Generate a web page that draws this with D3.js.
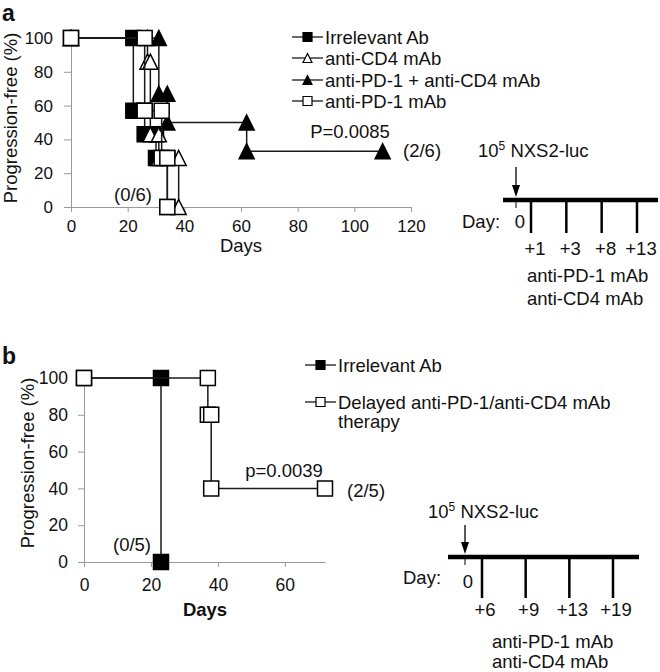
<!DOCTYPE html>
<html>
<head>
<meta charset="utf-8">
<script src="https://cdn.jsdelivr.net/npm/d3@7"></script>
<style>
  html, body { margin: 0; padding: 0; background: #fff; }
  svg { display: block; }
  text { font-family: "Liberation Sans", Arial, sans-serif; fill: #111; }
</style>
</head>
<body>
<svg id="chart" width="660" height="672"></svg>
<script>
// ---------- Panel a data ----------
const aSeriesNames = ["Irrelevant Ab", "anti-CD4 mAb", "anti-PD-1 + anti-CD4 mAb", "anti-PD-1 mAb"];
const aIrrDays   = [0, 22, 22, 26, 26, 30, 30, 34, 34];
const aIrrVals   = [100, 100, 57, 57, 43, 43, 29, 29, 0];
const aCd4Days   = [0, 27, 27, 28, 28, 31, 31, 38, 38];
const aCd4Vals   = [100, 100, 86, 86, 43, 43, 29, 29, 0];
const aComboDays = [0, 31, 31, 34, 34, 62, 62, 110];
const aComboVals = [100, 100, 67, 67, 50, 50, 33, 33];
const aPd1Days   = [0, 26, 26, 32, 32, 34, 34];
const aPd1Vals   = [100, 100, 57, 57, 29, 29, 0];
const aXTicks = [0, 20, 40, 60, 80, 100, 120];
const yTicks = [0, 20, 40, 60, 80, 100];
const aTimelineDays = ["+1", "+3", "+8", "+13"];

// ---------- Panel b data ----------
const bSeriesNames = ["Irrelevant Ab", "Delayed anti-PD-1/anti-CD4 mAb", "therapy"];
const bIrrDays = [0, 23, 23];
const bIrrVals = [100, 100, 0];
const bDelDays = [0, 37, 37, 38, 38, 72];
const bDelVals = [100, 100, 80, 80, 40, 40];
const bXTicks = [0, 20, 40, 60];
const bTimelineDays = ["+6", "+9", "+13", "+19"];

const svg = d3.select("#chart");
const AXIS = "#9a9a9a";
const LINE = "#1a1a1a";
const FS = 18.5;

function zip(days, vals) { return days.map((d, i) => [d, vals[i]]); }

function markerPath(shape, s) {
  const h = s / 2;
  if (shape === "square") return `M${-h},${-h}H${h}V${h}H${-h}Z`;
  return `M0,${-h}L${h},${h}L${-h},${h}Z`;
}

function drawSeries(g, x, y, pts, shape, fill, size) {
  g.append("path")
    .attr("d", d3.line().x(d => x(d[0])).y(d => y(d[1]))(pts))
    .attr("fill", "none").attr("stroke", LINE).attr("stroke-width", 1.5);
  g.selectAll(null).data(pts).enter().append("path")
    .attr("transform", d => `translate(${x(d[0])},${y(d[1])})`)
    .attr("d", markerPath(shape, size))
    .attr("fill", fill).attr("stroke", "#000").attr("stroke-width", 1.5);
}

function styleAxis(g, fs) {
  g.selectAll(".domain").attr("stroke", AXIS).attr("stroke-width", 1);
  g.selectAll(".tick line").attr("stroke", AXIS);
  g.selectAll(".tick text").attr("font-size", fs).attr("fill", "#111")
    .attr("font-family", '"Liberation Sans", Arial, sans-serif');
}

function legendItem(g, x0, yc, shape, fill, label) {
  g.append("line").attr("x1", x0).attr("x2", x0 + 31).attr("y1", yc).attr("y2", yc)
    .attr("stroke", LINE).attr("stroke-width", 1.3);
  g.append("path").attr("transform", `translate(${x0 + 15.5},${yc})`)
    .attr("d", markerPath(shape, 9)).attr("fill", fill).attr("stroke", "#000").attr("stroke-width", 1.2);
  if (label) g.append("text").attr("x", x0 + 33).attr("y", yc + 6.5).attr("font-size", FS).text(label);
}

function timeline(g, o) {
  const t = g.append("text").attr("x", o.textX).attr("y", o.textY).attr("font-size", FS);
  t.append("tspan").text("10");
  t.append("tspan").attr("font-size", 12).attr("dy", -7).text("5");
  t.append("tspan").attr("dy", 7).text(" NXS2-luc");
  // arrow
  g.append("line").attr("x1", o.arrowX).attr("x2", o.arrowX).attr("y1", o.arrowTop).attr("y2", o.lineY - 12)
    .attr("stroke", "#000").attr("stroke-width", 1.3);
  g.append("path").attr("d", `M${o.arrowX - 4},${o.lineY - 15}L${o.arrowX + 4},${o.lineY - 15}L${o.arrowX},${o.lineY - 3}Z`)
    .attr("fill", "#000");
  // main bar
  g.append("line").attr("x1", o.lineX0).attr("x2", o.lineX1).attr("y1", o.lineY).attr("y2", o.lineY)
    .attr("stroke", "#000").attr("stroke-width", 4.5);
  g.append("line").attr("x1", o.arrowX).attr("x2", o.arrowX).attr("y1", o.lineY).attr("y2", o.lineY + 8)
    .attr("stroke", "#000").attr("stroke-width", 1);
  g.append("text").attr("x", o.dayX).attr("y", o.dayY).attr("font-size", FS).text("Day:");
  g.append("text").attr("x", o.zeroX).attr("y", o.zeroY).attr("font-size", FS).attr("text-anchor", "middle").text("0");
  const sx = d3.scalePoint().domain(o.days).range(o.tickRange);
  o.days.forEach(d => {
    g.append("line").attr("x1", sx(d)).attr("x2", sx(d)).attr("y1", o.lineY).attr("y2", o.tickBottom)
      .attr("stroke", "#000").attr("stroke-width", 2.5);
    g.append("text").attr("x", sx(d) + o.labelOff).attr("y", o.labelY).attr("font-size", FS)
      .attr("text-anchor", "middle").text(d);
  });
  g.append("text").attr("x", o.drugX).attr("y", o.drug1Y).attr("font-size", FS).text("anti-PD-1 mAb");
  g.append("text").attr("x", o.drugX).attr("y", o.drug2Y).attr("font-size", FS).text("anti-CD4 mAb");
}

// =================== Panel a ===================
{
  const g = svg.append("g");
  const x = d3.scaleLinear().domain([0, 120]).range([71, 411]);
  const y = d3.scaleLinear().domain([0, 100]).range([207, 38]);

  const xa = g.append("g").attr("transform", `translate(0,${y(0)})`)
    .call(d3.axisBottom(x).tickValues(aXTicks).tickSize(5).tickSizeOuter(0).tickPadding(8));
  styleAxis(xa, 17);
  const ya = g.append("g").attr("transform", `translate(${x(0)},0)`)
    .call(d3.axisLeft(y).tickValues(yTicks).tickSize(7).tickSizeOuter(0).tickPadding(11));
  styleAxis(ya, 17);

  g.append("text").attr("transform", `translate(17,118) rotate(-90)`).attr("text-anchor", "middle")
    .attr("font-size", FS).text("Progression-free (%)");
  g.append("text").attr("x", 241).attr("y", 252).attr("text-anchor", "middle").attr("font-size", FS).text("Days");

  drawSeries(g, x, y, zip(aIrrDays, aIrrVals), "square", "#000", 15);
  drawSeries(g, x, y, zip(aCd4Days, aCd4Vals), "triangle", "#fff", 15);
  drawSeries(g, x, y, zip(aComboDays, aComboVals), "triangle", "#000", 15);
  drawSeries(g, x, y, zip(aPd1Days, aPd1Vals), "square", "#fff", 15);

  g.append("text").attr("x", 133).attr("y", 201).attr("text-anchor", "middle").attr("font-size", FS).text("(0/6)");
  g.append("text").attr("x", 350).attr("y", 138).attr("text-anchor", "middle").attr("font-size", FS).text("P=0.0085");
  g.append("text").attr("x", 403).attr("y", 157).attr("font-size", FS).text("(2/6)");

  g.append("text").attr("x", 2).attr("y", 21).attr("font-size", 23).attr("font-weight", "bold").text("a");

  const lg = svg.append("g");
  legendItem(lg, 292, 37, "square", "#000", aSeriesNames[0]);
  legendItem(lg, 292, 58, "triangle", "#fff", aSeriesNames[1]);
  legendItem(lg, 292, 80, "triangle", "#000", aSeriesNames[2]);
  legendItem(lg, 292, 101, "square", "#fff", aSeriesNames[3]);

  timeline(svg.append("g"), {
    textX: 478, textY: 157, arrowX: 516, arrowTop: 167, lineY: 200, lineX0: 503, lineX1: 658,
    dayX: 462, dayY: 228, zeroX: 520, zeroY: 228, days: aTimelineDays, tickRange: [531, 637],
    tickBottom: 233, labelOff: 4, labelY: 255, drugX: 527, drug1Y: 282, drug2Y: 305
  });
}

// =================== Panel b ===================
{
  const g = svg.append("g");
  const x = d3.scaleLinear().domain([0, 72]).range([84, 325]);
  const y = d3.scaleLinear().domain([0, 100]).range([562, 378]);

  const xa = g.append("g").attr("transform", `translate(0,${y(0)})`)
    .call(d3.axisBottom(x).tickValues(bXTicks).tickSize(5).tickSizeOuter(0).tickPadding(12));
  styleAxis(xa, 17.5);
  const ya = g.append("g").attr("transform", `translate(${x(0)},0)`)
    .call(d3.axisLeft(y).tickValues(yTicks).tickSize(6).tickSizeOuter(0).tickPadding(10));
  styleAxis(ya, 17.5);

  g.append("text").attr("transform", `translate(34,463) rotate(-90)`).attr("text-anchor", "middle")
    .attr("font-size", FS).text("Progression-free (%)");
  g.append("text").attr("x", 205).attr("y", 616).attr("text-anchor", "middle").attr("font-size", FS)
    .attr("font-weight", "bold").text("Days");

  drawSeries(g, x, y, zip(bIrrDays, bIrrVals), "square", "#000", 15);
  drawSeries(g, x, y, zip(bDelDays, bDelVals), "square", "#fff", 15);

  g.append("text").attr("x", 132).attr("y", 551).attr("text-anchor", "middle").attr("font-size", FS).text("(0/5)");
  g.append("text").attr("x", 284).attr("y", 477).attr("text-anchor", "middle").attr("font-size", FS).text("p=0.0039");
  g.append("text").attr("x", 347).attr("y", 497).attr("font-size", FS).text("(2/5)");

  g.append("text").attr("x", 2).attr("y", 364).attr("font-size", 23).attr("font-weight", "bold").text("b");

  const lg = svg.append("g");
  legendItem(lg, 305, 365, "square", "#000", bSeriesNames[0]);
  legendItem(lg, 305, 402, "square", "#fff", bSeriesNames[1]);
  lg.append("text").attr("x", 338).attr("y", 428).attr("font-size", FS).text(bSeriesNames[2]);

  timeline(svg.append("g"), {
    textX: 428, textY: 518, arrowX: 465, arrowTop: 525, lineY: 557, lineX0: 448, lineX1: 639,
    dayX: 403, dayY: 584, zeroX: 468, zeroY: 588, days: bTimelineDays, tickRange: [482, 613],
    tickBottom: 598, labelOff: 3, labelY: 616, drugX: 492, drug1Y: 648, drug2Y: 668
  });
}
</script>
</body>
</html>
